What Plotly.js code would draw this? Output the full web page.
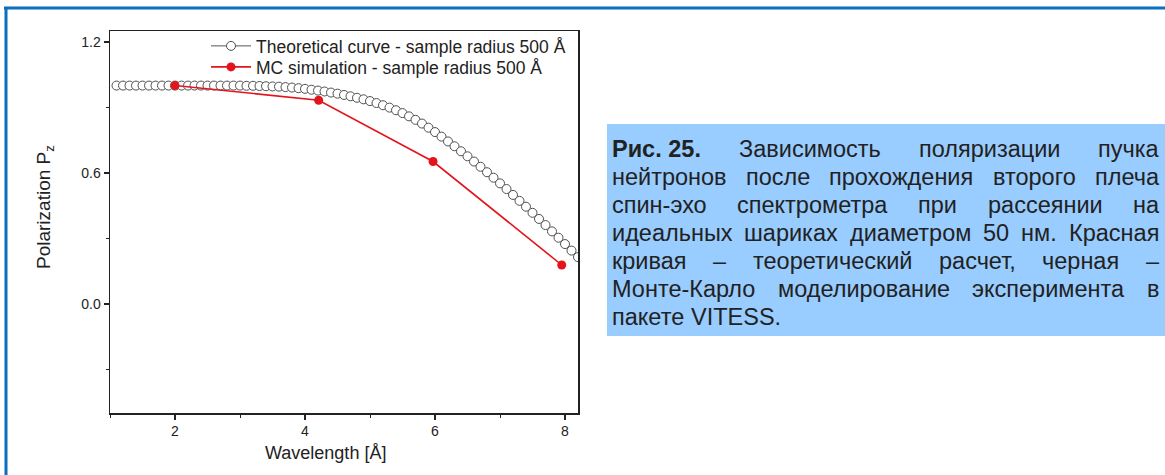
<!DOCTYPE html>
<html><head><meta charset="utf-8">
<script src="https://cdn.plot.ly/plotly-3.0.1.min.js"></script>
<style>html,body{margin:0;padding:0;background:#fff}#chart{width:1165px;height:475px}</style>
</head><body><div id="chart"></div>
<script>
// ---- data ----
const xTheory = [1.1,1.2,1.3,1.4,1.5,1.6,1.7,1.8,1.9,2.0,2.1,2.2,2.3,2.4,2.5,2.6,2.7,2.8,2.9,3.0,
  3.1,3.2,3.3,3.4,3.5,3.6,3.7,3.8,3.9,4.0,4.1,4.2,4.3,4.4,4.5,4.6,4.7,4.8,4.9,5.0,
  5.1,5.2,5.3,5.4,5.5,5.6,5.7,5.8,5.9,6.0,6.1,6.2,6.3,6.4,6.5,6.6,6.7,6.8,6.9,7.0,
  7.1,7.2,7.3,7.4,7.5,7.6,7.7,7.8,7.9,8.0,8.1,8.2];
const yTheory = [1.000,1.000,1.000,1.000,1.000,1.000,1.000,1.000,1.000,1.000,1.000,1.000,1.000,1.000,1.000,1.000,1.000,1.000,1.000,1.000,
  0.999,0.999,0.998,0.997,0.996,0.995,0.993,0.991,0.988,0.985,0.981,0.977,0.973,0.968,0.963,0.957,0.951,0.944,0.937,0.929,
  0.920,0.910,0.899,0.887,0.874,0.859,0.843,0.826,0.807,0.787,0.766,0.744,0.722,0.699,0.676,0.652,0.628,0.603,0.578,0.552,
  0.526,0.499,0.472,0.445,0.417,0.389,0.361,0.332,0.303,0.274,0.244,0.214];
const xMC = [2.0, 4.21, 5.97, 7.95];
const yMC = [1.0, 0.933, 0.652, 0.178];
const xTickVals = [2, 4, 6, 8];
const yTickVals = [0.0, 0.6, 1.2];
const seriesNames = ["Theoretical curve - sample radius 500 Å", "MC simulation - sample radius 500 Å"];
const xTitle = "Wavelength [Å]";
const yTitle = "Polarization P<sub>z</sub>";
const captionLines = [
  ["Рис. 25.", "Зависимость", "поляризации", "пучка"],
  ["нейтронов", "после", "прохождения", "второго", "плеча"],
  ["спин-эхо", "спектрометра", "при", "рассеянии", "на"],
  ["идеальных", "шариках", "диаметром", "50", "нм.", "Красная"],
  ["кривая", "–", "теоретический", "расчет,", "черная", "–"],
  ["Монте-Карло", "моделирование", "эксперимента", "в"],
  ["пакете", "VITESS."]
];

// ---- layout helpers ----
const W = 1165, H = 475, M = {l:110, r:587, t:31, b:62};
const PW = W - M.l - M.r, PH = H - M.t - M.b;
const px2x = p => (p - M.l) / PW;
const px2y = p => (H - M.b - p) / PH;
const FONT = '"Liberation Sans", Arial, Helvetica, sans-serif';
const INK = '#222222';

const CAP_SIZE = 23.5, CAP_LEFT = 611, CAP_RIGHT = 1158, CAP_TOP = 149, CAP_STEP = 28;
const ctx = document.createElement('canvas').getContext('2d');
function tw(t, bold){ ctx.font = (bold ? 'bold ' : '') + CAP_SIZE + 'px "Liberation Sans"'; return ctx.measureText(t).width; }

const annotations = [];
captionLines.forEach((words, i) => {
  const yc = CAP_TOP + i * CAP_STEP;
  const isLast = i === captionLines.length - 1;
  const widths = words.map((wd, k) => tw(wd, i === 0 && k === 0));
  const total = widths.reduce((a,b)=>a+b, 0);
  const sp = tw(' ', false);
  const gap = isLast ? sp : Math.max(sp * 0.8, (CAP_RIGHT - CAP_LEFT - total) / (words.length - 1));
  let pos = CAP_LEFT;
  words.forEach((wd, k) => {
    const bold = i === 0 && k === 0;
    annotations.push({xref:'paper', yref:'paper', x:px2x(pos), y:px2y(yc), xanchor:'left', yanchor:'middle',
      text: bold ? '<b>' + wd + '</b>' : wd, showarrow:false, borderpad:0,
      font:{family:FONT, size:CAP_SIZE, color:INK}});
    pos += widths[k] + gap;
  });
});
annotations.push({xref:'paper', yref:'paper', x:px2x(325), y:px2y(453), xanchor:'center', yanchor:'middle',
  text:xTitle, showarrow:false, font:{family:FONT, size:18, color:INK}});
annotations.push({xref:'paper', yref:'paper', x:px2x(45), y:px2y(207), xanchor:'center', yanchor:'middle',
  text:yTitle, textangle:-90, showarrow:false, font:{family:FONT, size:19, color:INK}});

const shapes = [
  {type:'rect', xref:'paper', yref:'paper', x0:px2x(607), x1:px2x(1166), y0:px2y(124), y1:px2y(336),
   fillcolor:'#99ccff', line:{width:0}, layer:'below'},
  {type:'line', xref:'paper', yref:'paper', x0:px2x(4), x1:px2x(1166), y0:px2y(8), y1:px2y(8),
   line:{color:'#0b6fc0', width:3}},
  {type:'line', xref:'paper', yref:'paper', x0:px2x(6), x1:px2x(6), y0:px2y(7), y1:px2y(476),
   line:{color:'#0b6fc0', width:3}}
];

const traces = [
  {x:xTheory, y:yTheory, name:seriesNames[0], type:'scatter', mode:'lines+markers',
   line:{color:'#555555', width:1},
   marker:{symbol:'circle', size:9, color:'#ffffff', line:{color:'#505050', width:1}}, legend:'legend'},
  {x:xMC, y:yMC, name:seriesNames[1], type:'scatter', mode:'lines+markers',
   line:{color:'#e3141b', width:1.6},
   marker:{symbol:'circle', size:9, color:'#e3141b'}, legend:'legend2'}
];

const legendCommon = {xanchor:'left', yanchor:'middle', bgcolor:'rgba(0,0,0,0)', borderwidth:0,
  itemwidth:40, font:{family:FONT, size:17.5, color:INK}};

const layout = {
  width:W, height:H, margin:M, paper_bgcolor:'#ffffff', plot_bgcolor:'#ffffff',
  font:{family:FONT, color:INK},
  showlegend:true,
  legend: Object.assign({x:px2x(206), y:px2y(46)}, legendCommon),
  legend2: Object.assign({x:px2x(206), y:px2y(67)}, legendCommon),
  xaxis:{range:[1.0, 8.2], tickmode:'array', tickvals:xTickVals, ticktext:xTickVals.map(String),
    ticks:'outside', ticklen:5, tickwidth:1.3, tickcolor:INK,
    minor:{dtick:1, tick0:1, ticks:'outside', ticklen:3, tickwidth:1, tickcolor:INK, showgrid:false},
    showline:true, linecolor:INK, linewidth:1.5, mirror:true, showgrid:false, zeroline:false,
    tickfont:{family:FONT, size:14, color:INK}},
  yaxis:{range:[-0.5, 1.25], tickmode:'array', tickvals:yTickVals, ticktext:yTickVals.map(v=>v.toFixed(1)),
    ticks:'outside', ticklen:5, tickwidth:1.3, tickcolor:INK,
    minor:{dtick:0.3, tick0:0, ticks:'outside', ticklen:3, tickwidth:1, tickcolor:INK, showgrid:false},
    showline:true, linecolor:INK, linewidth:1.5, mirror:true, showgrid:false, zeroline:false,
    tickfont:{family:FONT, size:14, color:INK}},
  annotations, shapes
};
Plotly.newPlot('chart', traces, layout, {displayModeBar:false, staticPlot:true});
</script></body></html>
